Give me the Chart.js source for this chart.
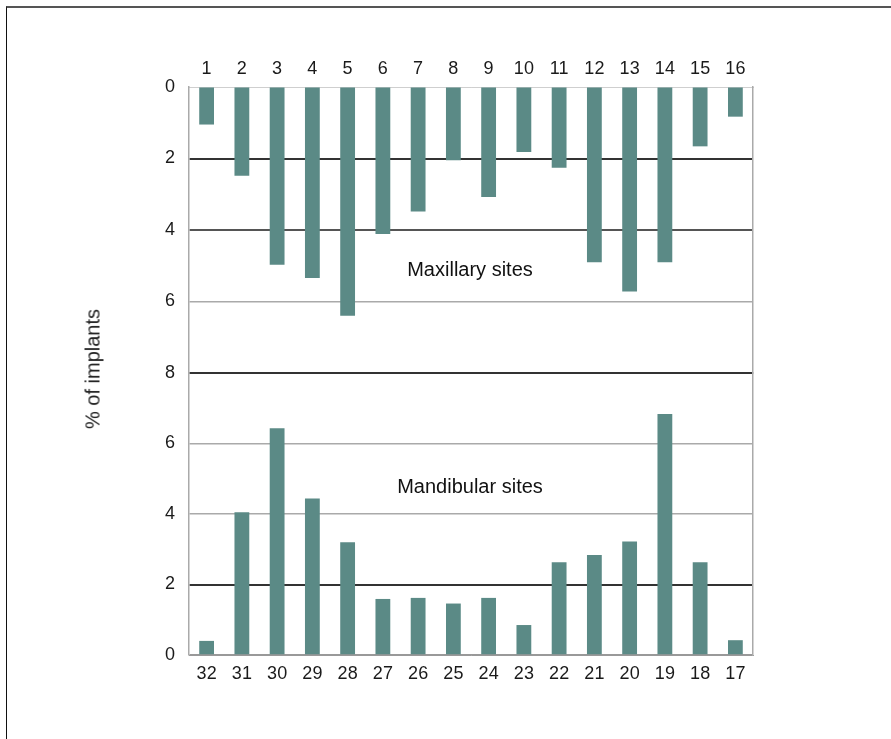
<!DOCTYPE html>
<html>
<head>
<meta charset="utf-8">
<script src="https://cdn.jsdelivr.net/npm/chart.js"></script>
<style>
body{margin:0;background:#fff;width:891px;height:739px;overflow:hidden;position:relative;font-family:"Liberation Sans",Arial,sans-serif;}
#frame{position:absolute;left:6px;top:6px;width:885px;height:733px;border-top:2px solid #555;border-left:1px solid #111;}
.box{position:absolute;left:0;}
#topBox{top:0;}
#bottomBox{top:348px;}
.note{position:absolute;font-size:20px;color:#111;transform:translate(-50%,-50%);white-space:nowrap;}
#ylabel{position:absolute;left:93px;top:369px;transform:translate(-50%,-50%) rotate(-90deg);font-size:20px;color:#222;white-space:nowrap;}
</style>
</head>
<body>
<div id="frame"></div>
<div class="box" id="topBox"><canvas id="topChart" width="891" height="400"></canvas></div>
<div class="box" id="bottomBox"><canvas id="bottomChart" width="891" height="380"></canvas></div>
<div id="ylabel">% of implants</div>
<div class="note" style="left:470px;top:269px;">Maxillary sites</div>
<div class="note" style="left:470px;top:486px;">Mandibular sites</div>
<script>
// upper jaw, sites 1-16 (bars hang down)
const maxLabels=["1","2","3","4","5","6","7","8","9","10","11","12","13","14","15","16"];
const maxValues=[1.05,2.48,4.97,5.34,6.4,4.11,3.48,2.05,3.08,1.82,2.26,4.9,5.72,4.9,1.66,0.83];
// lower jaw, sites 32-17
const mandLabels=["32","31","30","29","28","27","26","25","24","23","22","21","20","19","18","17"];
const mandValues=[0.4,4.05,6.43,4.44,3.2,1.59,1.62,1.46,1.62,0.85,2.63,2.84,3.22,6.84,2.63,0.42];
const yTicks=[0,2,4,6,8];

const barColor="#5b8a86";
const tickFont={family:"Liberation Sans, Arial, sans-serif",size:18};
const tickColor="#1a1a1a";

// gridline look per value
const topGridColor={0:"#d0d0d0",2:"#333",4:"#555",6:"#aaa",8:"rgba(0,0,0,0)"};
const topGridWidth={0:1,2:2,4:2,6:1.5,8:1};
const bottomGridColor={0:"#999",2:"#333",4:"#aaa",6:"#aaa",8:"#333"};
const bottomGridWidth={0:1.5,2:2,4:1.5,6:1.5,8:2};

function makeChart(id,labels,values,top){
    const ctx=document.getElementById(id).getContext("2d");
    const gColor=top?topGridColor:bottomGridColor;
    const gWidth=top?topGridWidth:bottomGridWidth;
    return new Chart(ctx,{
        type:"bar",
        data:{
            labels:labels,
            datasets:[{
                data:values,
                backgroundColor:barColor,
                borderWidth:0,
                barPercentage:0.42,
                categoryPercentage:1.0
            }]
        },
        options:{
            responsive:false,
            animation:false,
            // bottom canvas sits at 348, so its plot area spans 373..655 on the page
            layout:{padding:top?{left:100,right:138,top:50,bottom:27}:{left:100,right:138,top:25,bottom:36}},
            plugins:{legend:{display:false},tooltip:{enabled:false}},
            scales:{
                x:{
                    position:top?"top":"bottom",
                    grid:{display:false},
                    border:{color:top?"#cfcfcf":"#999",width:1},
                    ticks:{font:tickFont,color:tickColor,padding:top?-1:0,maxRotation:0,autoSkip:false},
                    afterFit:s=>{s.height=37;}
                },
                y:{
                    reverse:top,
                    min:0,
                    max:8,
                    afterBuildTicks:s=>{s.ticks=yTicks.map(v=>({value:v}));},
                    ticks:{
                        font:tickFont,color:tickColor,padding:14,
                        callback:v=>(top&&v===8)?"":v
                    },
                    grid:{
                        drawTicks:false,
                        color:c=>gColor[c.tick.value],
                        lineWidth:c=>gWidth[c.tick.value]
                    },
                    border:{color:"#aaa",width:1.5},
                    afterFit:s=>{s.width=89;}
                },
                yr:{
                    position:"right",
                    ticks:{display:false},
                    grid:{display:false},
                    border:{color:"#aaa",width:1.5},
                    afterFit:s=>{s.width=0;}
                }
            }
        }
    });
}

makeChart("topChart",maxLabels,maxValues,true);
makeChart("bottomChart",mandLabels,mandValues,false);
</script>
</body>
</html>
